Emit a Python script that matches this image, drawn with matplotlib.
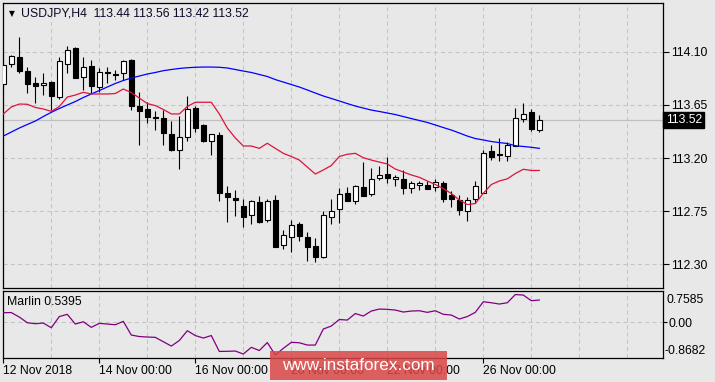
import matplotlib
matplotlib.use('Agg')
import matplotlib.pyplot as plt
import matplotlib.transforms as mtransforms
from matplotlib.patches import Rectangle
import numpy as np

plt.rcParams['font.family'] = ['Liberation Sans', 'DejaVu Sans']

# ---------------- data (USDJPY H4) ----------------
opens = [113.824, 113.993, 114.055, 113.936, 113.832, 113.815, 113.843, 113.719, 113.998, 114.128,
         113.888, 113.979, 113.804, 113.930, 113.914, 113.917, 114.029, 113.640, 113.612, 113.545,
         113.539, 113.403, 113.265, 113.380, 113.621, 113.479, 113.341, 113.395, 112.902, 112.859,
         112.794, 112.716, 112.828, 112.673, 112.845, 112.462, 112.529, 112.639, 112.532, 112.456,
         112.360, 112.704, 112.766, 112.904, 112.834, 112.952, 112.893, 113.034, 113.065, 113.020,
         113.020, 112.944, 112.969, 112.972, 112.952, 112.989, 112.885, 112.845, 112.749, 112.851,
         112.907, 113.259, 113.234, 113.220, 113.304, 113.528, 113.587, 113.44]
highs = [114.004, 114.072, 114.226, 113.968, 113.883, 113.919, 113.852, 114.052, 114.150, 114.142,
         114.052, 114.029, 113.959, 113.973, 113.945, 114.026, 114.038, 113.756, 113.677, 113.598,
         113.606, 113.513, 113.556, 113.727, 113.640, 113.485, 113.402, 113.418, 112.963, 112.930,
         112.851, 112.845, 112.879, 112.851, 112.885, 112.591, 112.676, 112.661, 112.574, 112.524,
         112.752, 112.853, 112.944, 112.952, 112.972, 113.164, 113.113, 113.133, 113.206, 113.057,
         113.099, 113.006, 113.008, 113.008, 113.020, 113.006, 112.924, 112.885, 112.868, 113.006,
         113.268, 113.310, 113.367, 113.338, 113.621, 113.663, 113.615, 113.56]
lows = [113.790, 113.973, 113.917, 113.748, 113.668, 113.731, 113.606, 113.697, 113.917, 113.880,
        113.776, 113.748, 113.761, 113.832, 113.860, 113.860, 113.606, 113.310, 113.499, 113.437,
        113.310, 113.260, 113.110, 113.347, 113.423, 113.338, 113.226, 112.839, 112.661, 112.712,
        112.619, 112.639, 112.650, 112.661, 112.450, 112.433, 112.408, 112.500, 112.331, 112.323,
        112.355, 112.639, 112.653, 112.839, 112.814, 112.876, 112.881, 113.014, 112.991, 112.966,
        112.893, 112.902, 112.932, 112.938, 112.921, 112.831, 112.788, 112.718, 112.670, 112.817,
        112.905, 113.183, 113.175, 113.175, 113.300, 113.507, 113.429, 113.42]
closes = [113.987, 114.061, 113.939, 113.824, 113.807, 113.832, 113.727, 114.021, 114.114, 113.880,
          113.968, 113.812, 113.925, 113.917, 113.900, 114.021, 113.643, 113.600, 113.550, 113.538,
          113.414, 113.268, 113.375, 113.615, 113.457, 113.347, 113.400, 112.907, 112.873, 112.848,
          112.704, 112.834, 112.661, 112.834, 112.450, 112.546, 112.631, 112.543, 112.445, 112.365,
          112.716, 112.749, 112.893, 112.839, 112.961, 112.881, 113.020, 113.057, 113.034, 113.040,
          112.949, 112.986, 112.986, 112.941, 112.995, 112.856, 112.851, 112.760, 112.845, 112.961,
          113.240, 113.211, 113.223, 113.310, 113.536, 113.570, 113.446, 113.52]
ma_blue = [113.386, 113.420, 113.454, 113.484, 113.513, 113.551, 113.587, 113.619, 113.649, 113.678,
           113.712, 113.742, 113.771, 113.801, 113.831, 113.856, 113.877, 113.894, 113.911, 113.924,
           113.939, 113.949, 113.958, 113.964, 113.968, 113.970, 113.970, 113.968, 113.962, 113.949,
           113.936, 113.924, 113.907, 113.890, 113.864, 113.843, 113.822, 113.801, 113.776, 113.750,
           113.725, 113.704, 113.683, 113.661, 113.640, 113.623, 113.606, 113.594, 113.581, 113.568,
           113.551, 113.534, 113.518, 113.501, 113.480, 113.458, 113.437, 113.412, 113.386, 113.365,
           113.353, 113.340, 113.331, 113.323, 113.304, 113.298, 113.291, 113.282]
ma_red = [113.573, 113.632, 113.657, 113.655, 113.628, 113.615, 113.595, 113.636, 113.716, 113.733,
          113.756, 113.742, 113.742, 113.742, 113.746, 113.784, 113.754, 113.708, 113.661, 113.644,
          113.611, 113.573, 113.573, 113.636, 113.672, 113.672, 113.672, 113.573, 113.454, 113.370,
          113.302, 113.302, 113.282, 113.325, 113.282, 113.240, 113.213, 113.183, 113.124, 113.065,
          113.099, 113.137, 113.213, 113.232, 113.240, 113.203, 113.183, 113.166, 113.150, 113.107,
          113.082, 113.057, 113.037, 113.006, 112.976, 112.942, 112.900, 112.845, 112.807, 112.815,
          112.902, 112.976, 113.006, 113.024, 113.069, 113.105, 113.095, 113.095]
marlin = [0.231, 0.235, 0.126, -0.012, -0.036, -0.019, -0.134, 0.138, 0.192, -0.044,
          0.012, -0.124, -0.027, -0.044, -0.061, 0.022, -0.311, -0.347, -0.359, -0.367,
          -0.473, -0.578, -0.444, -0.206, -0.323, -0.384, -0.323, -0.709, -0.706, -0.699,
          -0.772, -0.609, -0.687, -0.493, -0.796, -0.634, -0.488, -0.498, -0.554, -0.554,
          -0.165, -0.092, 0.066, 0.053, 0.211, 0.151, 0.272, 0.320, 0.313, 0.296,
          0.248, 0.272, 0.279, 0.240, 0.279, 0.192, 0.175, 0.078, 0.138, 0.240,
          0.498, 0.473, 0.442, 0.473, 0.672, 0.660, 0.522, 0.5395]
date_ticks = [0, 12, 24, 36, 48, 60]
date_labels = ['12 Nov 2018', '14 Nov 00:00', '16 Nov 00:00', '20 Nov 00:00',
               '22 Nov 00:00', '26 Nov 00:00']
price_ticks = [114.10, 113.65, 113.20, 112.75, 112.30]
marlin_max, marlin_min = 0.7585, -0.8682
symbol = 'USDJPY,H4'
watermark = 'www.instaforex.com'

# ---------------- layout ----------------
W, H = 715, 382
BG = '#e8e8e8'
GRID = '#c4c4c4'
fig = plt.figure(figsize=(W / 100, H / 100), dpi=100)
fig.patch.set_facecolor(BG)


def box(l, t, r, b):
    return [l / W, 1 - b / H, (r - l) / W, (b - t) / H]


px = mtransforms.Affine2D().scale(1 / W, -1 / H).translate(0, 1) + fig.transFigure

ax = fig.add_axes(box(2.5, 2.5, 663, 288))
ax2 = fig.add_axes(box(2.5, 291, 663, 358))

n = len(opens)
x = np.arange(n)
o = np.array(opens); h = np.array(highs); l = np.array(lows); c = np.array(closes)
xlim = (-0.1, 82.46)

for a in (ax, ax2):
    a.set_facecolor(BG)
    a.set_xlim(*xlim)
    for s in a.spines.values():
        s.set_linewidth(0.9)
        s.set_color('black')
    for gx in range(6, 80, 6):
        a.axvline(gx, color=GRID, lw=0.75, ls=(0, (4, 3)), zorder=0)

# main panel
ax.set_ylim(112.1006, 114.516)
for p in price_ticks:
    ax.axhline(p, color=GRID, lw=0.75, ls=(0, (4, 3)), zorder=0)
ax.axhline(c[-1], color='#c0c0c0', lw=0.9, zorder=0.5)

ax.vlines(x, l, h, color='black', lw=0.8, zorder=2)
up = c >= o
bot = np.minimum(o, c)
ht = np.maximum(np.abs(c - o), 0.004)
ax.bar(x[up], ht[up], bottom=bot[up], width=0.55, facecolor='white',
       edgecolor='black', linewidth=0.8, zorder=3)
ax.bar(x[~up], ht[~up], bottom=bot[~up], width=0.55, facecolor='black',
       edgecolor='black', linewidth=0.8, zorder=3)
ax.plot(x, ma_blue, color='#0000ff', lw=0.9, zorder=4)
ax.plot(x, ma_red, color='#dc143c', lw=0.9, zorder=4)

ax.set_xticks([])
ax.yaxis.tick_right()
ax.set_yticks(price_ticks)
ax.set_yticklabels([f'{p:.2f}' for p in price_ticks])
ax.tick_params(axis='y', direction='out', length=4, width=0.8, pad=1.5,
               labelsize=8.8, colors='black')

blend = mtransforms.blended_transform_factory(ax.transAxes, ax.transData)
ax.text(1.004, c[-1], f'{c[-1]:.2f}', transform=blend, ha='left', va='center',
        fontsize=8.8, color='white', clip_on=False, zorder=10,
        bbox=dict(boxstyle='square,pad=0.18', fc='black', ec='black'))

title = f'{symbol}  {o[-1]:.2f} {h[-1]:.2f} {l[-1]:.2f} {c[-1]:.2f}'
fig.text(11.5, 13.5, '\u25bc', transform=px, ha='center', va='center',
         fontsize=5.5, family=['DejaVu Sans'], color='black')
fig.text(21, 13.5, title, transform=px, ha='left', va='center', fontsize=8.8,
         color='#0a0a28')

# lower panel
ax2.set_ylim(marlin_min, marlin_max)
ax2.axhline(0, color=GRID, lw=0.75, ls=(0, (4, 3)), zorder=0)
ax2.plot(x, marlin, color='#800080', lw=0.9, zorder=3)
ax2.yaxis.tick_right()
ax2.set_yticks([0])
ax2.set_yticklabels(['0.00'])
ax2.tick_params(axis='y', direction='out', length=3, width=0.8, pad=1,
                labelsize=8.8, colors='black')
ax2.set_xticks(date_ticks)
ax2.set_xticklabels(date_labels, ha='left')
ax2.tick_params(axis='x', direction='out', length=3.5, width=0.8, pad=1.5,
                labelsize=8.8, colors='black')
ax2.text(1.005, 0.865, f'{marlin_max:.4f}', transform=ax2.transAxes, ha='left',
         va='center', fontsize=8.8, clip_on=False)
ax2.text(1.003, 0.11, f'{marlin_min:.4f}', transform=ax2.transAxes, ha='left',
         va='center', fontsize=8.8, clip_on=False)
ax2.text(0.007, 0.84, f'Marlin {marlin[-1]:.4f}', transform=ax2.transAxes,
         ha='left', va='center', fontsize=8.8, color='black')

# watermark
fig.add_artist(Rectangle((270, 350.7), 177, 29.3, transform=px,
                         facecolor='#da4747', alpha=0.85, edgecolor='none', zorder=20))
fig.text(358, 366, watermark, transform=px, ha='center', va='center',
         fontsize=12.3, color='white', zorder=21)

fig.savefig('out.png', dpi=100, facecolor=BG)
